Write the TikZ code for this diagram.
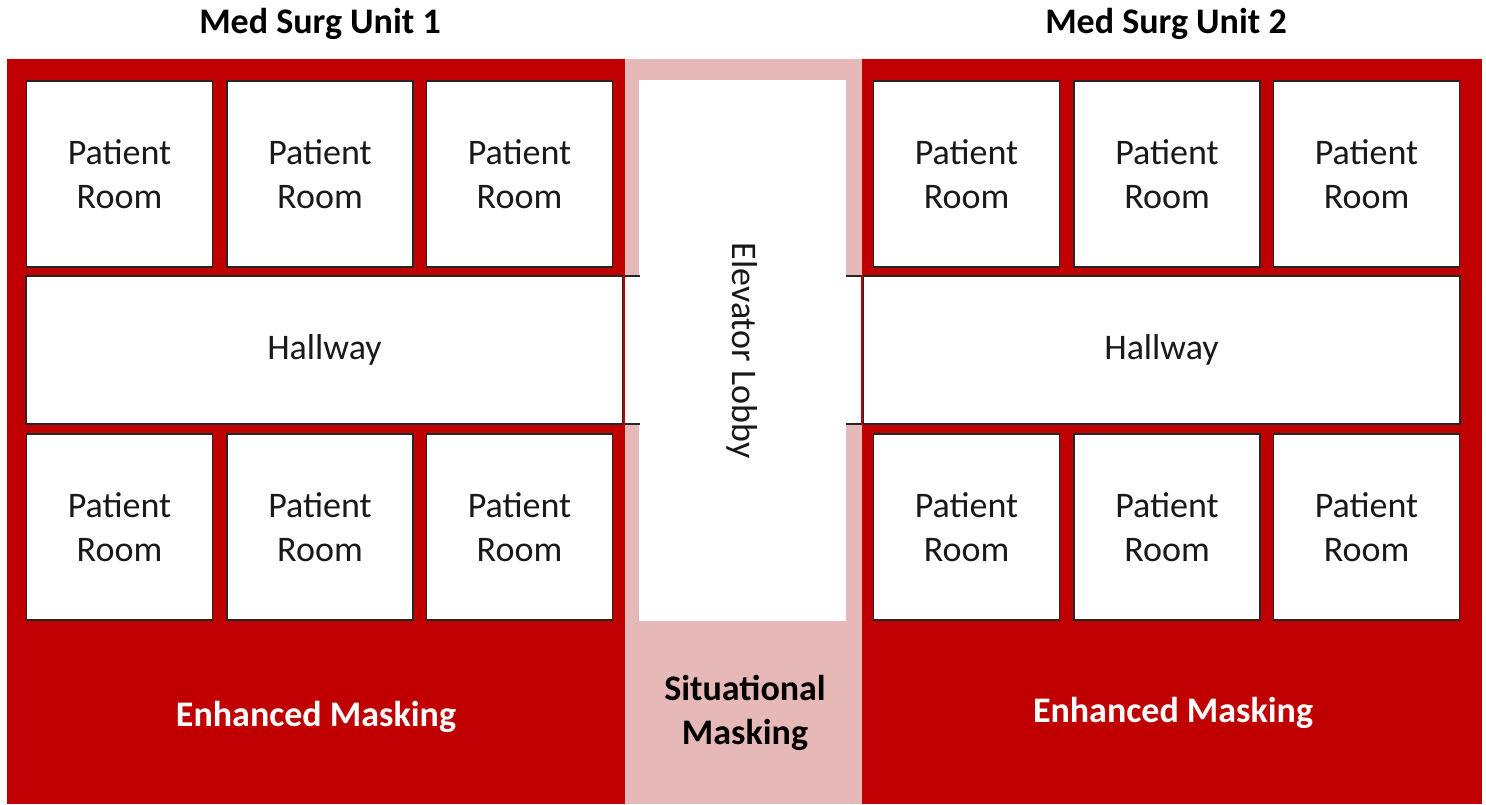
\documentclass[tikz,border=0pt]{standalone}
\usepackage{fontspec}
\setmainfont{Carlito}
\definecolor{maskred}{HTML}{C00000}
\definecolor{maskpink}{HTML}{E6B9B8}
\tikzset{
  room/.style={draw=black!85, fill=white, line width=0.6pt, inner sep=0pt,
    minimum width=93pt, minimum height=93pt, align=center,
    font=\fontsize{18}{22}\selectfont, text=black!90},
  hall/.style={room, minimum width=298.5pt, minimum height=74pt},
  title/.style={font=\bfseries\fontsize{18}{22}\selectfont, text=black},
  zone/.style={font=\bfseries\fontsize{18}{22}\selectfont, align=center}
}
\begin{document}
\begin{tikzpicture}[x=0.5pt, y=-0.5pt]
  \useasboundingbox (0,0) rectangle (1486,804);
  % masking zones
  \fill[maskred] (7,59) rectangle (625,804);
  \fill[maskpink] (625,59) rectangle (862,804);
  \fill[maskred] (862,59) rectangle (1482,804);
  \node[title] (unit1) at (320,24) {Med Surg Unit 1};
  \node[title] (unit2) at (1166,24) {Med Surg Unit 2};
  % lobby and hallways
  \node[fill=white, inner sep=0pt, rotate=-90, minimum width=270.5pt,
    minimum height=103.5pt, font=\fontsize{18}{22}\selectfont, text=black!90]
    (lobby) at (742.5,350.5) {Elevator Lobby};
  \fill[white] (623,276) rectangle (640,424);
  \fill[white] (846,276) rectangle (863,424);
  \draw[black!85, line width=0.6pt] (623,276) -- (640,276) (623,424) -- (640,424);
  \draw[black!85, line width=0.6pt] (846,276) -- (863,276) (846,424) -- (863,424);
  \node[hall] (hall1) at (324.5,350) {Hallway};
  \node[hall] (hall2) at (1161.5,350) {Hallway};
  \draw[maskred, line width=1pt] (hall1.north east) -- (hall1.south east);
  \draw[maskred, line width=1pt] (hall2.north west) -- (hall2.south west);
  % unit 1 rooms
  \node[room] (r11) at (119.5,174) {Patient\\Room};
  \node[room] (r12) at (320,174) {Patient\\Room};
  \node[room] (r13) at (519.5,174) {Patient\\Room};
  \node[room] (r14) at (119.5,527) {Patient\\Room};
  \node[room] (r15) at (320,527) {Patient\\Room};
  \node[room] (r16) at (519.5,527) {Patient\\Room};
  % unit 2 rooms
  \node[room] (r21) at (966.5,174) {Patient\\Room};
  \node[room] (r22) at (1167,174) {Patient\\Room};
  \node[room] (r23) at (1366.5,174) {Patient\\Room};
  \node[room] (r24) at (966.5,527) {Patient\\Room};
  \node[room] (r25) at (1167,527) {Patient\\Room};
  \node[room] (r26) at (1366.5,527) {Patient\\Room};
  % masking labels
  \node[zone, text=white] (enh1) at (316,717) {Enhanced Masking};
  \node[zone, text=black] (sit) at (745,713) {Situational\\Masking};
  \node[zone, text=white] (enh2) at (1173,713) {Enhanced Masking};
\end{tikzpicture}
\end{document}
